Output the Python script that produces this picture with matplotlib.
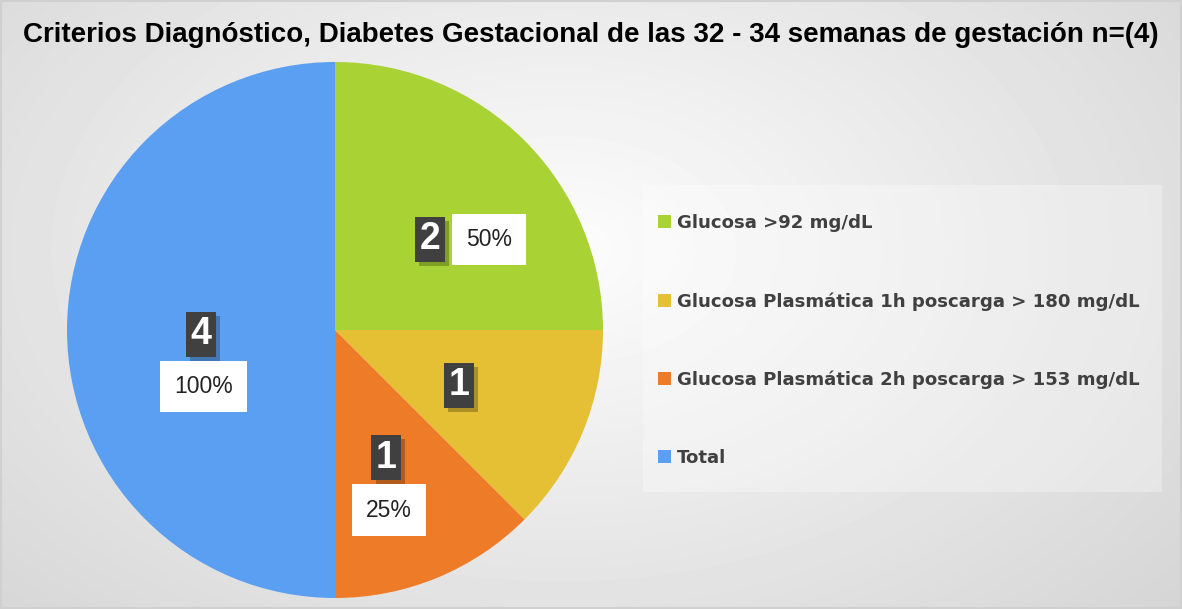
import numpy as np
import matplotlib
matplotlib.use("Agg")
import matplotlib.pyplot as plt
import matplotlib.patheffects as pe
from matplotlib.patches import Rectangle

title = "Criterios Diagnóstico, Diabetes Gestacional de las 32 - 34 semanas de gestación n=(4)"
categories = ["Glucosa >92 mg/dL",
              "Glucosa Plasmática 1h poscarga > 180 mg/dL",
              "Glucosa Plasmática 2h poscarga > 153 mg/dL",
              "Total"]
values = [2, 1, 1, 4]
pct_labels = ["50%", None, "25%", "100%"]
colors = ["#A9D334", "#E6C034", "#EE7B27", "#5B9FF2"]

W, H = 1182, 609
fig = plt.figure(figsize=(W / 100, H / 100), dpi=100)

# background: soft radial gradient
bg = fig.add_axes([0, 0, 1, 1])
yy, xx = np.mgrid[0:H, 0:W]
d = np.sqrt(((xx - 560) / 800.0) ** 2 + ((yy - 250) / 520.0) ** 2)
shade = np.clip(0.99 - 0.15 * d, 0, 1)
bg.imshow(shade, cmap="gray", vmin=0, vmax=1, extent=[0, W, H, 0], aspect="auto")
bg.set_xlim(0, W)
bg.set_ylim(H, 0)
bg.axis("off")
bg.add_patch(Rectangle((0.5, 0.5), W - 1.5, H - 1.5, fill=False, edgecolor="#D0D0D0", lw=1.5))
# legend panel
bg.add_patch(Rectangle((643, 185), 519, 307, facecolor="white", alpha=0.3, edgecolor="none"))

fig.text(0.5, 1 - 35 / H, title, ha="center", va="center", fontsize=20,
         fontweight="bold", family="Liberation Sans", color="black")

# pie axes
cx, cy, r = 335, 330, 268
ax = fig.add_axes([(cx - r) / W, (H - cy - r) / H, 2 * r / W, 2 * r / H])
wedges, _ = ax.pie(values, colors=colors, startangle=90, counterclock=False,
                   radius=1, wedgeprops=dict(linewidth=0))
ax.set_xlim(-1, 1)
ax.set_ylim(-1, 1)
ax.axis("off")

for w, v, p in zip(wedges, values, pct_labels):
    ang = np.deg2rad((w.theta1 + w.theta2) / 2)
    x, y = 0.5 * np.cos(ang), 0.5 * np.sin(ang) - 0.015
    t = ax.text(x, y, str(v), ha="center", va="center", fontsize=27, fontweight="bold",
                color="white", family="Liberation Sans",
                bbox=dict(boxstyle="square,pad=0.12", facecolor="#404040", edgecolor="none"))
    t.get_bbox_patch().set_path_effects(
        [pe.SimplePatchShadow(offset=(3, -3), shadow_rgbFace="black", alpha=0.25), pe.Normal()])
    if p is None:
        continue
    if np.cos(ang) > 0.5:
        px, py = x + 0.22, y
    else:
        px, py = x + 0.01, y - 0.195
    ax.text(px, py, p, ha="center", va="center", fontsize=16.5, color="#222222",
            family="Liberation Sans",
            bbox=dict(boxstyle="square,pad=0.62", facecolor="white", edgecolor="none"))

leg = fig.legend(wedges, categories, loc="upper left",
                 bbox_to_anchor=(649 / W, 1 - 205 / H), frameon=False,
                 handlelength=0.72, handleheight=0.72, handletextpad=0.3,
                 labelspacing=3.3, borderpad=0,
                 prop=dict(family="DejaVu Sans", weight="bold", size=13.1))
for t in leg.get_texts():
    t.set_color("#404040")

fig.savefig("out.png", dpi=100)
